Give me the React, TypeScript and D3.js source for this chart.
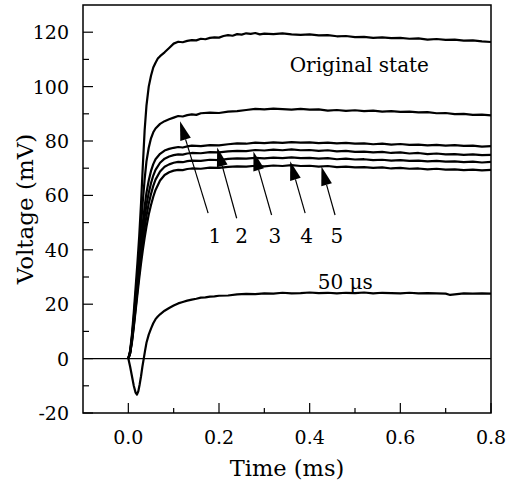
import React from "react";
import * as d3 from "d3";

// time (ms), voltage (mV)
const originalState: [number, number][] = [
  [0, 0], [0.004, 3], [0.008, 9], [0.012, 17], [0.016, 26], [0.02, 35], [0.024, 45], [0.028, 57],
  [0.032, 71], [0.036, 84], [0.04, 93], [0.045, 100], [0.05, 104], [0.055, 107], [0.06, 108.8],
  [0.065, 110.3], [0.07, 111.2], [0.08, 112.6], [0.09, 114.2], [0.1, 115.8], [0.11, 116.5],
  [0.12, 116.3], [0.13, 116.8], [0.14, 117.1], [0.15, 117.0], [0.16, 117.6], [0.17, 117.4],
  [0.18, 117.9], [0.19, 118.1], [0.2, 118.0], [0.21, 118.6], [0.22, 118.9], [0.23, 118.7],
  [0.24, 119.3], [0.25, 119.1], [0.26, 119.6], [0.27, 119.4], [0.28, 119.7], [0.29, 119.2],
  [0.3, 119.5], [0.32, 119.3], [0.34, 119.6], [0.36, 119.2], [0.38, 119.0], [0.4, 119.2],
  [0.42, 118.8], [0.44, 118.9], [0.46, 118.5], [0.48, 118.6], [0.5, 118.2], [0.52, 118.3],
  [0.54, 117.9], [0.56, 118.1], [0.58, 117.8], [0.6, 117.9], [0.62, 117.6], [0.64, 117.7],
  [0.66, 117.3], [0.68, 117.5], [0.7, 117.2], [0.72, 117.3], [0.74, 116.9], [0.76, 117.0],
  [0.78, 116.6], [0.8, 116.4],
];

const curve1: [number, number][] = [
  [0, 0], [0.004, 2.5], [0.008, 8], [0.012, 15], [0.016, 23], [0.02, 31], [0.024, 40], [0.028, 49],
  [0.032, 58], [0.036, 66], [0.04, 72.5], [0.045, 77.5], [0.05, 81], [0.055, 83.2], [0.06, 84.6],
  [0.07, 86.3], [0.08, 87.3], [0.09, 88.0], [0.1, 88.6], [0.11, 89.2], [0.12, 89.0], [0.13, 89.5],
  [0.14, 89.8], [0.15, 89.6], [0.16, 90.2], [0.18, 90.4], [0.2, 90.3], [0.22, 90.8], [0.24, 91.0],
  [0.26, 91.4], [0.28, 91.8], [0.3, 91.6], [0.32, 91.9], [0.34, 91.7], [0.36, 91.5], [0.38, 91.8],
  [0.4, 91.5], [0.42, 91.6], [0.44, 91.2], [0.46, 91.4], [0.48, 91.1], [0.5, 91.3], [0.52, 91.0],
  [0.54, 91.2], [0.56, 90.8], [0.58, 91.0], [0.6, 90.7], [0.62, 90.8], [0.64, 90.5], [0.66, 90.6],
  [0.68, 90.2], [0.7, 90.3], [0.72, 89.9], [0.74, 90.0], [0.76, 89.6], [0.78, 89.7], [0.8, 89.4],
];

const curve2: [number, number][] = [
  [0, 0], [0.004, 2.5], [0.008, 7.5], [0.012, 14], [0.016, 21], [0.02, 28.5], [0.024, 36],
  [0.028, 43.5], [0.032, 50], [0.036, 56], [0.04, 61], [0.045, 65.5], [0.05, 69], [0.055, 71.5],
  [0.06, 73.3], [0.07, 75.3], [0.08, 76.5], [0.09, 77.1], [0.1, 77.5], [0.11, 77.8], [0.12, 77.6],
  [0.13, 78.0], [0.14, 78.3], [0.16, 78.1], [0.18, 78.5], [0.2, 78.4], [0.22, 78.8], [0.24, 79.1],
  [0.26, 79.0], [0.28, 79.4], [0.3, 79.2], [0.32, 79.5], [0.34, 79.3], [0.36, 79.6], [0.38, 79.4],
  [0.4, 79.5], [0.42, 79.2], [0.44, 79.4], [0.46, 79.1], [0.48, 79.3], [0.5, 79.0], [0.52, 79.1],
  [0.54, 78.8], [0.56, 79.0], [0.58, 78.7], [0.6, 78.9], [0.62, 78.6], [0.64, 78.7], [0.66, 78.4],
  [0.68, 78.6], [0.7, 78.3], [0.72, 78.5], [0.74, 78.2], [0.76, 78.3], [0.78, 77.9], [0.8, 78.1],
];

const curve3: [number, number][] = [
  [0, 0], [0.004, 2], [0.008, 7], [0.012, 13], [0.016, 20], [0.02, 27], [0.024, 34], [0.028, 40.5],
  [0.032, 46.5], [0.036, 52], [0.04, 56.5], [0.045, 61], [0.05, 64.5], [0.055, 67.3], [0.06, 69.4],
  [0.07, 72], [0.08, 73.5], [0.09, 74.3], [0.1, 74.8], [0.11, 75.1], [0.12, 75.0], [0.13, 75.4],
  [0.14, 75.6], [0.16, 75.5], [0.18, 75.9], [0.2, 75.8], [0.22, 76.2], [0.24, 76.4], [0.26, 76.3],
  [0.28, 76.7], [0.3, 76.5], [0.32, 76.8], [0.34, 76.6], [0.36, 76.9], [0.38, 76.6], [0.4, 76.7],
  [0.42, 76.4], [0.44, 76.6], [0.46, 76.2], [0.48, 76.4], [0.5, 76.0], [0.52, 76.1], [0.54, 75.8],
  [0.56, 76.0], [0.58, 75.6], [0.6, 75.8], [0.62, 75.4], [0.64, 75.6], [0.66, 75.2], [0.68, 75.4],
  [0.7, 75.1], [0.72, 75.2], [0.74, 74.9], [0.76, 75.1], [0.78, 74.8], [0.8, 74.9],
];

const curve4: [number, number][] = [
  [0, 0], [0.004, 2], [0.008, 6.5], [0.012, 12], [0.016, 18.5], [0.02, 25], [0.024, 31.5],
  [0.028, 37.5], [0.032, 43], [0.036, 48], [0.04, 52.5], [0.045, 57], [0.05, 60.5], [0.055, 63.5],
  [0.06, 65.8], [0.07, 68.8], [0.08, 70.5], [0.09, 71.4], [0.1, 72.0], [0.11, 72.3], [0.12, 72.2],
  [0.13, 72.6], [0.14, 72.8], [0.16, 72.7], [0.18, 73.1], [0.2, 73.0], [0.22, 73.4], [0.24, 73.6],
  [0.26, 73.5], [0.28, 73.8], [0.3, 73.6], [0.32, 73.9], [0.34, 73.7], [0.36, 74.0], [0.38, 73.7],
  [0.4, 73.8], [0.42, 73.5], [0.44, 73.7], [0.46, 73.3], [0.48, 73.5], [0.5, 73.2], [0.52, 73.3],
  [0.54, 73.0], [0.56, 73.1], [0.58, 72.8], [0.6, 73.0], [0.62, 72.7], [0.64, 72.8], [0.66, 72.5],
  [0.68, 72.7], [0.7, 72.4], [0.72, 72.5], [0.74, 72.2], [0.76, 72.4], [0.78, 72.1], [0.8, 72.3],
];

const curve5: [number, number][] = [
  [0, 0], [0.004, 2], [0.008, 6], [0.012, 11.5], [0.016, 17.5], [0.02, 23.5], [0.024, 29.5],
  [0.028, 35], [0.032, 40], [0.036, 44.5], [0.04, 48.5], [0.045, 53], [0.05, 56.5], [0.055, 59.5],
  [0.06, 62], [0.07, 65.5], [0.08, 67.5], [0.09, 68.5], [0.1, 69.1], [0.11, 69.4], [0.12, 69.3],
  [0.13, 69.7], [0.14, 69.9], [0.16, 69.8], [0.18, 70.2], [0.2, 70.1], [0.22, 70.5], [0.24, 70.7],
  [0.26, 70.6], [0.28, 70.9], [0.3, 70.7], [0.32, 71.0], [0.34, 70.8], [0.36, 71.1], [0.38, 70.8],
  [0.4, 70.9], [0.42, 70.6], [0.44, 70.8], [0.46, 70.4], [0.48, 70.6], [0.5, 70.3], [0.52, 70.4],
  [0.54, 70.1], [0.56, 70.3], [0.58, 69.9], [0.6, 70.1], [0.62, 69.8], [0.64, 69.9], [0.66, 69.6],
  [0.68, 69.8], [0.7, 69.5], [0.72, 69.6], [0.74, 69.3], [0.76, 69.5], [0.78, 69.2], [0.8, 69.4],
];

const curve50us: [number, number][] = [
  [0, 0], [0.004, -3], [0.008, -6.5], [0.012, -10], [0.016, -12.5], [0.019, -13.2], [0.022, -12],
  [0.025, -9.5], [0.028, -6.5], [0.031, -3], [0.034, 0], [0.037, 3], [0.04, 5.8], [0.045, 8.8],
  [0.05, 11], [0.055, 13], [0.06, 14.5], [0.065, 15.5], [0.07, 16.3], [0.08, 17.6], [0.09, 18.6],
  [0.1, 19.5], [0.11, 20.3], [0.12, 20.8], [0.13, 21.3], [0.14, 21.7], [0.15, 22.0], [0.16, 22.4],
  [0.17, 22.5], [0.18, 22.8], [0.19, 22.9], [0.2, 23.1], [0.22, 23.2], [0.24, 23.6], [0.26, 23.8],
  [0.28, 23.7], [0.3, 24.0], [0.32, 23.9], [0.34, 24.2], [0.36, 24.0], [0.38, 24.1], [0.4, 24.3],
  [0.42, 24.1], [0.44, 24.2], [0.46, 24.0], [0.48, 24.2], [0.5, 24.1], [0.52, 24.3], [0.54, 24.0],
  [0.56, 24.2], [0.58, 24.1], [0.6, 24.0], [0.62, 24.2], [0.64, 24.0], [0.66, 24.1], [0.68, 24.0],
  [0.7, 23.9], [0.71, 23.4], [0.72, 23.6], [0.74, 24.0], [0.76, 23.9], [0.78, 24.0], [0.8, 23.9],
];

const traces = [originalState, curve1, curve2, curve3, curve4, curve5, curve50us];

// numbered arrows: label, tip [t, v], tail [t, v], label position [t, v]
const arrowLabels = ["1", "2", "3", "4", "5"];
const arrowTips: [number, number][] = [[0.114, 87.3], [0.196, 77.6], [0.276, 76.1], [0.357, 72.6], [0.426, 70.6]];
const arrowTails: [number, number][] = [[0.176, 53.5], [0.239, 51.6], [0.316, 52.8], [0.39, 53.5], [0.456, 52.8]];
const labelPos: [number, number][] = [[0.191, 42.6], [0.25, 42.6], [0.3235, 42.6], [0.393, 42.6], [0.46, 42.6]];

const xMajor = [0, 0.2, 0.4, 0.6, 0.8];
const xMinor = [0.1, 0.3, 0.5, 0.7];
const yMajor = [-20, 0, 20, 40, 60, 80, 100, 120];
const yMinor = [-10, 10, 30, 50, 70, 90, 110];

const W = 511;
const H = 485;
const margin = { top: 5, right: 20, bottom: 72, left: 83 };
const FONT = "'DejaVu Serif', serif";

export default function App() {
  const x = d3.scaleLinear().domain([-0.1, 0.8]).range([margin.left, W - margin.right]);
  const y = d3.scaleLinear().domain([-20, 130]).range([H - margin.bottom, margin.top]);
  const line = d3
    .line<[number, number]>()
    .x((d) => x(d[0]))
    .y((d) => y(d[1]));

  const [x0, x1] = x.range();
  const [y0, y1] = y.range();

  return (
    <svg width={W} height={H} style={{ position: "absolute", left: 0, top: 0, background: "#fff" }}>
      <rect x={0} y={0} width={W} height={H} fill="#fff" />
      {/* zero line */}
      <line x1={x0} x2={x1} y1={y(0)} y2={y(0)} stroke="#000" strokeWidth={1.2} />

      {traces.map((d, i) => (
        <path key={i} d={line(d) ?? ""} fill="none" stroke="#000" strokeWidth={2.2} strokeLinejoin="round" />
      ))}

      {/* arrows */}
      {arrowLabels.map((lab, i) => {
        const tx = x(arrowTips[i][0]);
        const ty = y(arrowTips[i][1]);
        const sx = x(arrowTails[i][0]);
        const sy = y(arrowTails[i][1]);
        const ang = Math.atan2(ty - sy, tx - sx);
        const len = 19;
        const hw = 5.5;
        const bx = tx - len * Math.cos(ang);
        const by = ty - len * Math.sin(ang);
        const px = -Math.sin(ang) * hw;
        const py = Math.cos(ang) * hw;
        return (
          <g key={lab}>
            <line x1={sx} y1={sy} x2={bx} y2={by} stroke="#000" strokeWidth={1.2} />
            <polygon points={`${tx},${ty} ${bx + px},${by + py} ${bx - px},${by - py}`} fill="#000" />
            <text x={x(labelPos[i][0])} y={y(labelPos[i][1])} fontFamily={FONT} fontSize={20} textAnchor="middle">
              {lab}
            </text>
          </g>
        );
      })}

      <text x={x(0.356)} y={y(105.3)} fontFamily={FONT} fontSize={20}>
        Original state
      </text>
      <text x={x(0.418)} y={y(25.7)} fontFamily={FONT} fontSize={20}>
        50 µs
      </text>

      {/* frame */}
      <rect x={x0} y={y1} width={x1 - x0} height={y0 - y1} fill="none" stroke="#000" strokeWidth={1.5} />

      {/* x ticks */}
      {xMajor.map((t) => (
        <g key={"xm" + t}>
          <line x1={x(t)} x2={x(t)} y1={y0} y2={y0 - 10} stroke="#000" strokeWidth={1.2} />
          <text x={x(t)} y={y0 + 31} fontFamily={FONT} fontSize={19} textAnchor="middle">
            {d3.format(".1f")(t)}
          </text>
        </g>
      ))}
      {xMinor.map((t) => (
        <line key={"xn" + t} x1={x(t)} x2={x(t)} y1={y0} y2={y0 - 5} stroke="#000" strokeWidth={1.2} />
      ))}

      {/* y ticks */}
      {yMajor.map((v) => (
        <g key={"ym" + v}>
          <line x1={x0} x2={x0 + 10} y1={y(v)} y2={y(v)} stroke="#000" strokeWidth={1.2} />
          <text x={x0 - 14} y={y(v) + 7} fontFamily={FONT} fontSize={19} textAnchor="end">
            {v}
          </text>
        </g>
      ))}
      {yMinor.map((v) => (
        <line key={"yn" + v} x1={x0} x2={x0 + 6} y1={y(v)} y2={y(v)} stroke="#000" strokeWidth={1.2} />
      ))}

      {/* axis titles */}
      <text x={(x0 + x1) / 2} y={H - 9} fontFamily={FONT} fontSize={22.5} textAnchor="middle">
        Time (ms)
      </text>
      <text
        transform={`translate(33,${(y0 + y1) / 2}) rotate(-90)`}
        fontFamily={FONT}
        fontSize={23}
        textAnchor="middle"
      >
        Voltage (mV)
      </text>
    </svg>
  );
}
